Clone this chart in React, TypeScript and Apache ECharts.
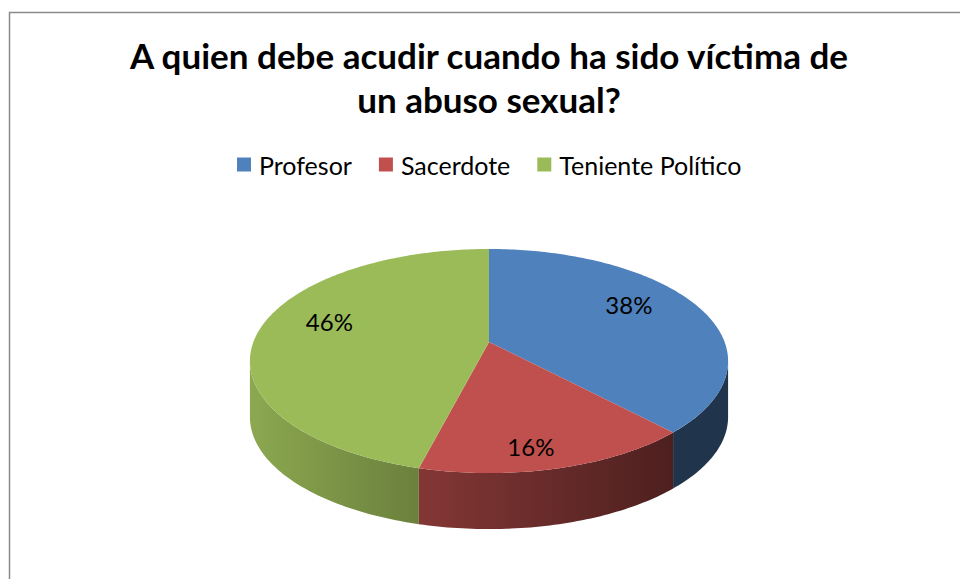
import { useEffect, useRef } from 'react';
import * as echarts from 'echarts';

const categories = ['Profesor', 'Sacerdote', 'Teniente Político'];
const values = [38, 16, 46];
const topColors = ['#4F81BD', '#C0504D', '#9BBB59'];
const titleLines = ['A quien debe acudir cuando ha sido víctima de', 'un abuso sexual?'];

// 3D pie geometry (perspective-projected disc)
const CX = 489;
const CY = 342;
const RX = 235.6;
const RY = 108.8;
const K = 0.17;
const DEPTH = 56;

function project(r: number, t: number, dz: number): number[] {
  const w = 1 + K * r * Math.cos(t);
  return [CX + (RX * r * Math.sin(t)) / w, CY - (RY * r * Math.cos(t)) / w + dz];
}

function hexToRgb(h: string): number[] {
  const n = parseInt(h.slice(1), 16);
  return [(n >> 16) & 255, (n >> 8) & 255, n & 255];
}
function shade(h: string, f: number): string {
  const c = hexToRgb(h).map((v) => Math.max(0, Math.min(255, Math.round(v * f))));
  return `rgb(${c[0]},${c[1]},${c[2]})`;
}

export default function App() {
  const ref = useRef<HTMLDivElement>(null);
  useEffect(() => {
    document.body.style.margin = '0';
    const chart = echarts.init(ref.current!, undefined, { renderer: 'svg' });
    const total = values.reduce((s, v) => s + v, 0);
    const starts: number[] = [];
    let acc = 0;
    values.forEach((v) => {
      starts.push(acc);
      acc += v;
    });
    const tS = Math.acos(-K);
    const tE = 2 * Math.PI - tS;
    const xLeft = CX - RX * 1.0145;
    const xRight = CX + RX * 1.0145;

    const series = categories.map((name, i) => ({
      type: 'custom',
      name,
      coordinateSystem: 'none',
      silent: true,
      itemStyle: { color: topColors[i] },
      data: [values[i]],
      renderItem: () => {
        const t1 = (starts[i] / total) * 2 * Math.PI;
        const t2 = ((starts[i] + values[i]) / total) * 2 * Math.PI;
        const children: any[] = [];
        // side wall
        const lo = Math.max(t1, tS);
        const hi = Math.min(t2, tE);
        if (hi > lo) {
          const pts: number[][] = [];
          const n = Math.max(2, Math.ceil(((hi - lo) * 180) / Math.PI));
          for (let j = 0; j <= n; j++) pts.push(project(1, lo + ((hi - lo) * j) / n, 0));
          for (let j = n; j >= 0; j--) pts.push(project(1, lo + ((hi - lo) * j) / n, DEPTH));
          const c = topColors[i];
          children.push({
            type: 'polygon',
            shape: { points: pts },
            style: {
              fill: {
                type: 'linear',
                x: xLeft,
                y: 0,
                x2: xRight,
                y2: 0,
                global: true,
                colorStops: [
                  { offset: 0, color: shade(c, 0.9) },
                  { offset: 0.33, color: shade(c, 0.7) },
                  { offset: 0.88, color: shade(c, 0.4) },
                  { offset: 1, color: shade(c, 0.4) },
                ],
              },
            },
          });
        }
        // top face
        const top: number[][] = [[CX, CY]];
        const m = Math.max(2, Math.ceil(((t2 - t1) * 180) / Math.PI));
        for (let j = 0; j <= m; j++) top.push(project(1, t1 + ((t2 - t1) * j) / m, 0));
        children.push({ type: 'polygon', shape: { points: top }, style: { fill: topColors[i] } });
        // label
        const mid = (t1 + t2) / 2;
        const p = project(0.68, mid, 0);
        const cm = Math.cos(mid);
        const ly = p[1] - 11 + (cm < 0 ? -cm * DEPTH * 0.65 : 0);
        children.push({
          type: 'text',
          x: p[0] - 3,
          y: ly,
          style: {
            text: Math.round((values[i] / total) * 100) + '%',
            fill: '#000',
            fontFamily: 'Lato',
            fontSize: 24,
            align: 'center',
            verticalAlign: 'middle',
          },
        });
        return { type: 'group', children };
      },
    }));

    chart.setOption({
      animation: false,
      backgroundColor: '#fff',
      title: {
        text: titleLines.join('\n'),
        left: 489,
        top: 33,
        padding: 0,
        textAlign: 'center',
        textStyle: { fontFamily: 'Lato', fontWeight: 'bold', fontSize: 35, lineHeight: 44, color: '#000' },
      },
      legend: {
        data: categories,
        left: 237,
        top: 152,
        padding: 0,
        icon: 'rect',
        itemWidth: 14,
        itemHeight: 14,
        itemGap: 27,
        textStyle: { fontFamily: 'Lato', fontSize: 25, color: '#000', padding: [0, 0, 0, 3] },
      },
      graphic: [
        {
          type: 'rect',
          shape: { x: 9.5, y: 12.5, width: 1000, height: 1000 },
          style: { fill: 'none', stroke: '#8a8a8a', lineWidth: 1.5 },
          silent: true,
        },
      ],
      series,
    });
    return () => chart.dispose();
  }, []);
  return <div ref={ref} style={{ width: 960, height: 579 }} />;
}
